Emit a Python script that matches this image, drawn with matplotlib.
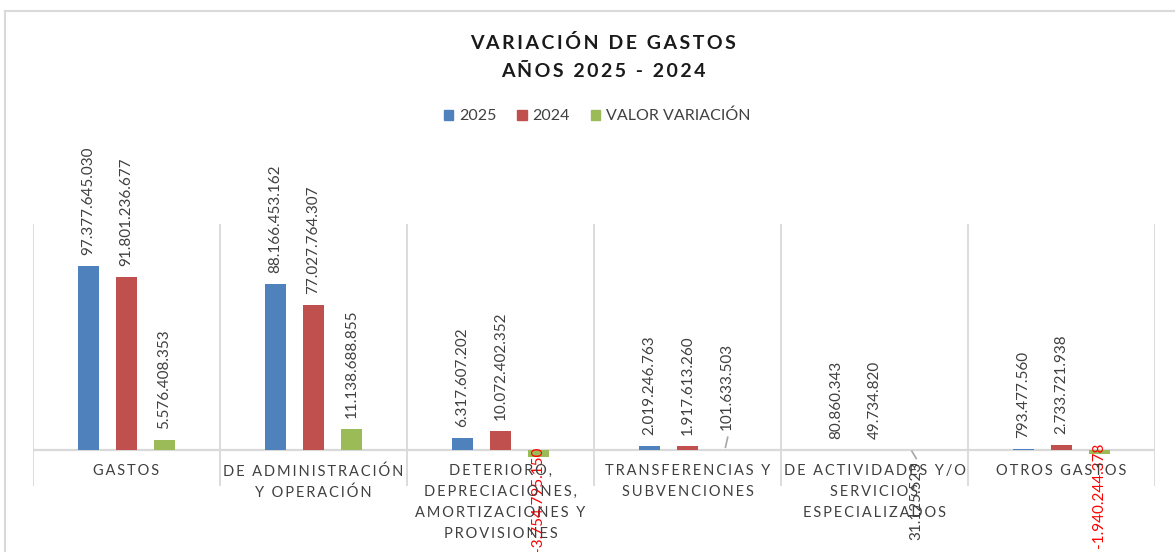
import numpy as np
import matplotlib
matplotlib.use('Agg')
import matplotlib.pyplot as plt
from matplotlib.lines import Line2D
from matplotlib.patches import Patch

plt.rcParams['font.family'] = ['Lato', 'DejaVu Sans']

categorias = ['GASTOS',
              'DE ADMINISTRACIÓN\nY OPERACIÓN',
              'DETERIORO,\nDEPRECIACIONES,\nAMORTIZACIONES Y\nPROVISIONES',
              'TRANSFERENCIAS Y\nSUBVENCIONES',
              'DE ACTIVIDADES Y/O\nSERVICIOS\nESPECIALIZADOS',
              'OTROS GASTOS']
v2025 = [97377645030, 88166453162, 6317607202, 2019246763, 80860343, 793477560]
v2024 = [91801236677, 77027764307, 10072402352, 1917613260, 49734820, 2733721938]
variacion = [5576408353, 11138688855, -3754795150, 101633503, 31125523, -1940244378]
series = ['2025', '2024', 'VALOR VARIACIÓN']

c_azul = '#4F81BD'
c_rojo = '#C0504D'
c_verde = '#9BBB59'
gris = '#D9D9D9'
texto = '#404040'


def espaciar(s, sep='\u2009'):
    return '\n'.join(sep.join(list(l)) for l in s.split('\n'))


def fmt(v):
    s = '{:,}'.format(abs(int(v))).replace(',', '.')
    return '-' + s if v < 0 else s


fig = plt.figure(figsize=(11.75, 5.52), dpi=100)
W, H = 1175, 552
ax = fig.add_axes([33 / W, (H - 486) / H, (1155 - 33) / W, (486 - 223.5) / H])

x = np.arange(len(categorias))
off = 0.203
bw = 0.112
ax.bar(x - off, v2025, bw, color=c_azul, zorder=3)
ax.bar(x, v2024, bw, color=c_rojo, zorder=3)
ax.bar(x + off, variacion, bw, color=c_verde, zorder=3)

ax.set_xlim(-0.5, len(categorias) - 0.5)
ax.set_ylim(-19e9, 120e9)
for s in ax.spines.values():
    s.set_visible(False)
ax.set_xticks([])
ax.set_yticks([])
for b in np.arange(-0.5, len(categorias), 1.0):
    ax.axvline(b, color=gris, lw=1.3, zorder=1)
ax.axhline(0, color=gris, lw=1.6, zorder=2)

fs_val = 11


# etiquetas de valor
def etiqueta(xx, v):
    if v >= 0:
        ax.annotate(fmt(v), (xx, v), xytext=(0, 11), textcoords='offset pixels',
                    rotation=90, ha='center', va='bottom', fontsize=fs_val, color=texto, zorder=5)
    else:
        ax.annotate(fmt(v), (xx, v), xytext=(0, 11), textcoords='offset pixels',
                    rotation=90, ha='center', va='top', fontsize=fs_val, color='#FF0000', zorder=5)


for i in range(len(categorias)):
    etiqueta(x[i] - off, v2025[i])
    etiqueta(x[i], v2024[i])
    if i == 3:
        ax.annotate(fmt(variacion[i]), (x[i] + off, variacion[i]), xytext=(1, 20),
                    textcoords='offset pixels', rotation=90, ha='center', va='bottom',
                    fontsize=fs_val, color=texto, zorder=5)
        ax.plot([x[i] + off, x[i] + off + 0.012], [1.5e9, 6.8e9], color='#A6A6A6', lw=1.2, zorder=4)
    elif i == 4:
        ax.annotate(fmt(variacion[i]), (x[i] + off, variacion[i]), xytext=(4, -12),
                    textcoords='offset pixels', rotation=90, ha='center', va='top',
                    fontsize=fs_val, color=texto, zorder=5)
        ax.plot([x[i] + off - 0.003, x[i] + off + 0.02], [-0.6e9, -4.4e9], color='#A6A6A6', lw=1.2, zorder=4)
    else:
        etiqueta(x[i] + off, variacion[i])

# etiquetas de categoria
for i, c in enumerate(categorias):
    ax.annotate(espaciar(c), (x[i], 0), xytext=(0, -14), textcoords='offset pixels',
                ha='center', va='top', fontsize=10.5, color=texto, linespacing=1.62,
                annotation_clip=False, zorder=6)

# titulo
fig.text(603 / W, 1 - 57 / H, espaciar('VARIACIÓN DE GASTOS\nAÑOS 2025 - 2024'), ha='center',
         va='center', fontsize=14, fontweight='bold', color='#1a1a1a', linespacing=1.78)

handles = [Patch(color=c_azul), Patch(color=c_rojo), Patch(color=c_verde)]
fig.legend(handles, series, loc='center', bbox_to_anchor=(597 / W, 1 - 116 / H), ncol=3,
           frameon=False, fontsize=11.5, handlelength=0.6, handleheight=0.6,
           handletextpad=0.35, columnspacing=1.3, labelcolor=texto)

# borde del area del grafico
fig.add_artist(Line2D([5 / W, 5 / W], [0, 1 - 11 / H], color=gris, lw=1.5, transform=fig.transFigure))
fig.add_artist(Line2D([5 / W, 1], [1 - 11 / H, 1 - 11 / H], color=gris, lw=1.5, transform=fig.transFigure))

fig.savefig('out.png', dpi=100, facecolor='white')
